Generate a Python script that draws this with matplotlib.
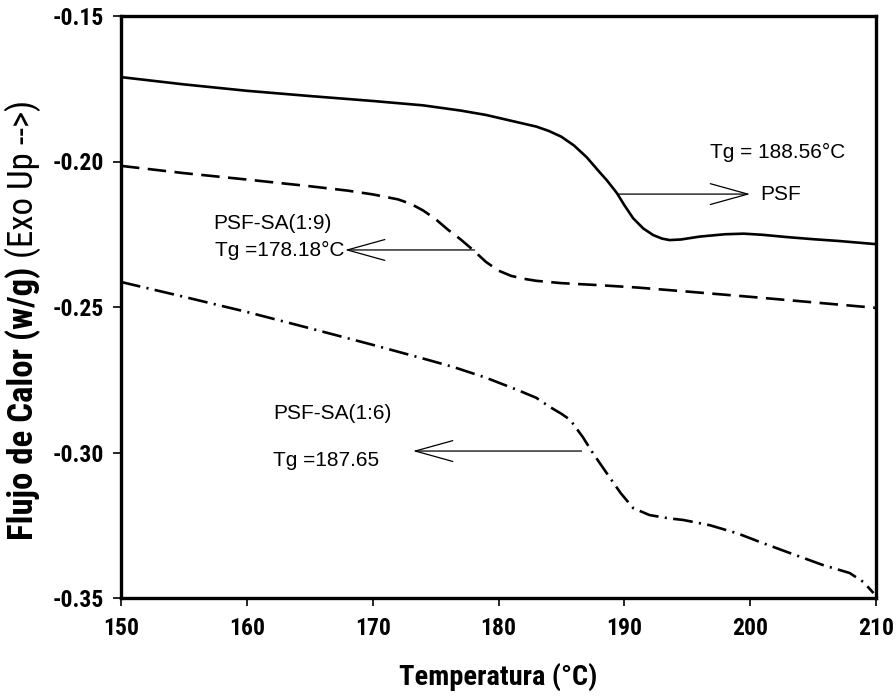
import matplotlib
matplotlib.use("Agg")
import matplotlib.pyplot as plt
from matplotlib import font_manager
from matplotlib.font_manager import FontProperties

# ---- data ----
psf_T = [150, 155, 160, 165, 170, 174, 177, 179, 181, 183, 184, 185, 186, 187, 188,
         188.6, 189.4, 190, 190.7, 191.5, 192.3, 193.0, 193.6, 194.5, 196, 198, 199.5,
         201, 203, 205, 207, 210]
psf_v = [-0.1710, -0.1735, -0.1757, -0.1775, -0.1792, -0.1807, -0.1825, -0.1840, -0.1860,
         -0.1880, -0.1895, -0.1915, -0.1945, -0.1985, -0.2035, -0.2064, -0.2108, -0.2150,
         -0.2195, -0.2230, -0.2253, -0.2265, -0.2270, -0.2268, -0.2258, -0.2250, -0.2248,
         -0.2252, -0.2260, -0.2267, -0.2273, -0.2284]

sa19_T = [150, 155, 160, 165, 168, 170, 172, 173, 174, 175, 176, 177, 178, 179, 180,
          181, 182, 183, 185, 188, 191, 195, 200, 205, 210]
sa19_v = [-0.2015, -0.2040, -0.2062, -0.2085, -0.2100, -0.2113, -0.2130, -0.2145, -0.2168,
          -0.2198, -0.2235, -0.2268, -0.2305, -0.2345, -0.2375, -0.2393, -0.2403, -0.2410,
          -0.2418, -0.2425, -0.2433, -0.2447, -0.2465, -0.2484, -0.2503]

sa16_T = [150, 155, 160, 165, 170, 174, 176.4, 179, 181.5, 183, 184.1, 185, 185.7, 186.7,
          187.5, 188.6, 189.7, 190.7, 192, 193.5, 194.7, 196.8, 199, 200.8, 203, 205.8,
          207.9, 209, 209.8]
sa16_v = [-0.2414, -0.2465, -0.2517, -0.2573, -0.2630, -0.2677, -0.2706, -0.2743, -0.2785,
          -0.2812, -0.2844, -0.2867, -0.2888, -0.2947, -0.3002, -0.3071, -0.3139, -0.3191,
          -0.3215, -0.3226, -0.3232, -0.3250, -0.3278, -0.3308, -0.3343, -0.3387, -0.3414,
          -0.3445, -0.3483]

x_ticks = [150, 160, 170, 180, 190, 200, 210]
y_ticks = [-0.35, -0.30, -0.25, -0.20, -0.15]
y_ticklabels = ["-0.35", "-0.30", "-0.25", "-0.20", "-0.15"]

psf_label = ["Tg = 188.56°C", "PSF"]
sa19_label = ["PSF-SA(1:9)", "Tg =178.18°C"]
sa16_label = ["PSF-SA(1:6)", "Tg =187.65"]

plt.rcParams['font.family'] = ['Liberation Sans', 'DejaVu Sans']

PREF = ['LiberationSansNarrow', 'ArialNarrow', 'RobotoCondensed', 'OpenSansCondensed',
        'NotoSansCondensed', 'DejaVuSansCondensed']


def find_font(bold):
    files = [f.fname for f in font_manager.fontManager.ttflist]
    for key in PREF:
        for fname in files:
            base = fname.split('/')[-1].replace('-', '').replace('_', '')
            if key not in base:
                continue
            if 'Italic' in base or 'Oblique' in base:
                continue
            if bold and base.endswith(('Bold.ttf', 'Bold.otf')) and 'Semi' not in base and 'Extra' not in base:
                return fname
            if not bold and ('Bold' not in base and 'Light' not in base and 'Medium' not in base
                             and 'Thin' not in base and 'Black' not in base and 'Semi' not in base):
                return fname
    return None


nb = find_font(True)
nr = find_font(False)


def fp_bold(size):
    if nb:
        return FontProperties(fname=nb, size=size)
    return FontProperties(family='Liberation Sans', weight='bold', size=size)


def fp_reg(size):
    if nr:
        return FontProperties(fname=nr, size=size)
    return FontProperties(family='Liberation Sans', weight='normal', size=size)


fig = plt.figure(figsize=(8.96, 6.99), dpi=100)
ax = fig.add_axes([121/896, 1 - 598/699, (876-121)/896, (598-16)/699])
r = fig.canvas.get_renderer()


def fit_size(text, target_px, maker):
    t = fig.text(0, 0, text, fontproperties=maker(20))
    w = t.get_window_extent(renderer=r).width
    t.remove()
    return 20 * target_px / w


lw = 1.9
ax.plot(psf_T, psf_v, color='black', lw=lw, solid_capstyle='butt')
ax.plot(sa19_T, sa19_v, color='black', lw=lw, linestyle=(0, (7.0, 3.2)), dash_capstyle='butt')
ax.plot(sa16_T, sa16_v, color='black', lw=lw, linestyle=(0, (7.5, 2.4, 0.8, 2.4)), dash_capstyle='butt')

ax.set_xlim(150, 210)
ax.set_ylim(-0.35, -0.15)
ax.set_xticks(x_ticks)
ax.set_yticks(y_ticks)
ax.set_yticklabels(y_ticklabels)

for s in ax.spines.values():
    s.set_linewidth(2.4)
ax.tick_params(axis='both', direction='out', length=6, width=1.2, top=False, right=False,
               pad=6)
ax.tick_params(axis='x', pad=8)
tick_fs = min(fit_size("-0.15", 52, fp_bold), 17)
for lab in ax.get_xticklabels() + ax.get_yticklabels():
    lab.set_fontproperties(fp_bold(tick_fs))

xl_fs = min(fit_size("Temperatura (°C)", 198, fp_bold), 21)
ax.set_xlabel("Temperatura (°C)", fontproperties=fp_bold(xl_fs), labelpad=16)

# y label: bold part followed directly by normal part
s1, s2 = "Flujo de Calor (w/g) ", "(Exo Up -->)"
ylab_fs = 25
t1 = fig.text(23/896, 0, s1, rotation=90, fontproperties=fp_bold(ylab_fs),
              ha='center', va='bottom')
t2 = fig.text(23/896, 0, s2, rotation=90, fontproperties=fp_reg(ylab_fs),
              ha='center', va='bottom')
h1 = t1.get_window_extent(renderer=r).height
h2 = t2.get_window_extent(renderer=r).height
center = (1 - 320/699) * fig.bbox.height
y0 = center - (h1 + h2) / 2
t1.set_y(y0 / fig.bbox.height)
t2.set_y((y0 + h1) / fig.bbox.height)

arrow_kw = dict(arrowstyle='->, head_length=2.7, head_width=0.75', color='black', lw=0.9,
                shrinkA=0, shrinkB=0)
txt_fs = 15

# PSF
ax.annotate("", xy=(200.0, -0.2112), xytext=(189.5, -0.2112), arrowprops=arrow_kw)
ax.text(200.8, -0.2112, psf_label[1], fontsize=txt_fs, ha='left', va='center')
ax.text(196.8, -0.1969, psf_label[0], fontsize=txt_fs, ha='left', va='center')

# PSF-SA(1:9)
ax.annotate("", xy=(167.8, -0.2304), xytext=(178.1, -0.2304), arrowprops=arrow_kw)
ax.text(157.3, -0.2213, sa19_label[0], fontsize=txt_fs, ha='left', va='center')
ax.text(157.5, -0.2306, sa19_label[1], fontsize=txt_fs, ha='left', va='center')

# PSF-SA(1:6)
ax.annotate("", xy=(173.2, -0.2995), xytext=(186.6, -0.2995), arrowprops=arrow_kw)
ax.text(162.1, -0.2865, sa16_label[0], fontsize=txt_fs, ha='left', va='center')
ax.text(162.1, -0.3028, sa16_label[1], fontsize=txt_fs, ha='left', va='center')

fig.savefig("out.png", dpi=100)
